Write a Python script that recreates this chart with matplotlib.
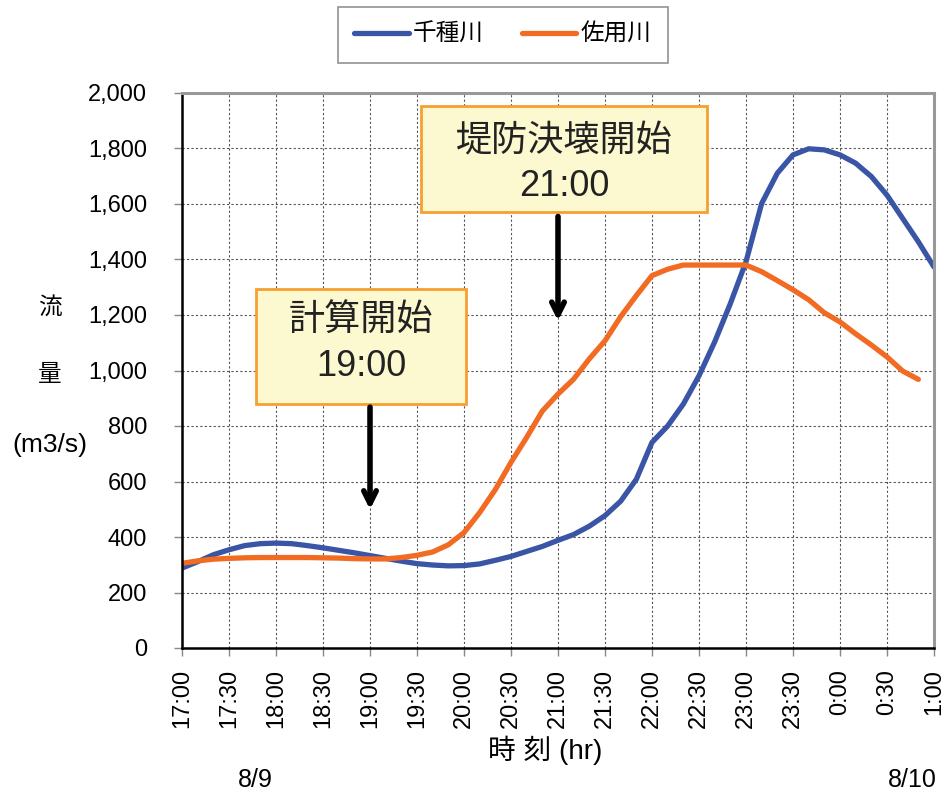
import matplotlib
matplotlib.use("Agg")
import matplotlib.pyplot as plt
from matplotlib.patches import Rectangle
import numpy as np

plt.rcParams['font.family'] = ['Liberation Sans', 'Noto Sans CJK JP', 'DejaVu Sans']

# 10分ごとの流量 (m3/s), 17:00起点
chikusa_flow = [288, 311, 336, 354, 369, 376,
                378, 376, 369, 361, 352, 343,
                333, 323, 313, 304, 299, 296,
                297, 303, 316, 330, 348, 366,
                388, 409, 439, 477, 529, 608,
                741, 800, 879, 981, 1103, 1241,
                1392, 1602, 1711, 1777, 1799, 1795,
                1777, 1747, 1699, 1632, 1548, 1464,
                1373]
sayo_flow = [305, 314, 320, 323, 325, 326,
             326, 326, 326, 325, 324, 322,
             321, 321, 326, 334, 346, 372,
             416, 488, 571, 669, 759, 854,
             915, 969, 1042, 1107, 1194, 1270,
             1342, 1365, 1380, 1380, 1380, 1380,
             1380, 1356, 1324, 1291, 1255, 1208,
             1175, 1132, 1092, 1049, 998, 968]
series_names = ['千種川', '佐用川']
tick_labels = ['17:00', '17:30', '18:00', '18:30', '19:00', '19:30', '20:00', '20:30',
               '21:00', '21:30', '22:00', '22:30', '23:00', '23:30', '0:00', '0:30', '1:00']
calc_start = 2.0      # 19:00
breach_start = 4.0    # 21:00

t_chikusa = np.arange(len(chikusa_flow)) / 6.0
t_sayo = np.arange(len(sayo_flow)) / 6.0

W, H = 946, 793
fig = plt.figure(figsize=(W / 100, H / 100), dpi=100)
ax = fig.add_axes([182 / W, 1 - 648 / H, (934 - 182) / W, (648 - 93) / H])

blue = '#3A55A6'
orange = '#F26B22'
l1, = ax.plot(t_chikusa, chikusa_flow, color=blue, lw=3.8, solid_capstyle='round')
l2, = ax.plot(t_sayo, sayo_flow, color=orange, lw=3.8, solid_capstyle='round')

ax.set_xlim(0, 8)
ax.set_ylim(0, 2000)
ax.set_xticks(np.arange(0, 8.01, 0.5))
ax.set_xticklabels(tick_labels, rotation=90, fontsize=17, va='top')
ax.set_yticks(np.arange(0, 2001, 200))
ax.set_yticklabels([f'{v:,}' for v in range(0, 2001, 200)], fontsize=17)
ax.tick_params(axis='both', direction='out', length=6, color='#888888', width=1)
ax.tick_params(axis='x', pad=9)
ax.tick_params(axis='y', pad=19)

ax.grid(True, color='#555555', linestyle=(0, (2, 2)), linewidth=0.8)
ax.set_axisbelow(True)

for s in ['left', 'bottom']:
    ax.spines[s].set_color('black')
    ax.spines[s].set_linewidth(1.8)
for s in ['top', 'right']:
    ax.spines[s].set_color('#999999')
    ax.spines[s].set_linewidth(2.2)

# 注記ボックス
box_face = '#FCF8CF'
box_edge = '#F7A030'
ax.add_patch(Rectangle((0.787, 879), 3.021 - 0.787, 1295 - 879,
                       facecolor=box_face, edgecolor=box_edge, lw=2, zorder=5))
ax.text(1.904, 1179, '計算開始', ha='center', va='center', fontsize=26, color='#222222', zorder=6)
ax.text(1.904, 1013, '19:00', ha='center', va='center', fontsize=26, color='#222222', zorder=6)

ax.add_patch(Rectangle((2.543, 1570), 5.585 - 2.543, 1953 - 1570,
                       facecolor=box_face, edgecolor=box_edge, lw=2, zorder=5))
ax.text(4.064, 1823, '堤防決壊開始', ha='center', va='center', fontsize=26, color='#222222', zorder=6)
ax.text(4.064, 1664, '21:00', ha='center', va='center', fontsize=26, color='#222222', zorder=6)

arrow_kw = dict(arrowstyle='->,head_length=0.9,head_width=0.45', color='black', lw=4,
                shrinkA=0, shrinkB=0)
ax.annotate('', xy=(calc_start, 499), xytext=(calc_start, 868), arrowprops=arrow_kw, zorder=6)
ax.annotate('', xy=(breach_start, 1179), xytext=(breach_start, 1555), arrowprops=arrow_kw, zorder=6)

# 凡例
leg = fig.legend([l1, l2], series_names, loc='center', bbox_to_anchor=(503 / W, 1 - 35 / H),
                 ncol=2, fontsize=17, frameon=True, fancybox=False, handlelength=2.3,
                 columnspacing=1.6, handletextpad=0.2, borderpad=0.7, borderaxespad=0)
leg.get_frame().set_edgecolor('#777777')
leg.get_frame().set_linewidth(1.2)

# 軸ラベル
fig.text(50 / W, 1 - 308 / H, '流', ha='center', va='center', fontsize=17)
fig.text(50 / W, 1 - 375 / H, '量', ha='center', va='center', fontsize=17)
fig.text(50 / W, 1 - 445 / H, '(m3/s)', ha='center', va='center', fontsize=19)
fig.text(545 / W, 1 - 750 / H, '時 刻 (hr)', ha='center', va='center', fontsize=20)
fig.text(255 / W, 1 - 780 / H, '8/9', ha='center', va='center', fontsize=18)
fig.text(912 / W, 1 - 780 / H, '8/10', ha='center', va='center', fontsize=18)

fig.savefig('out.png', dpi=100)
